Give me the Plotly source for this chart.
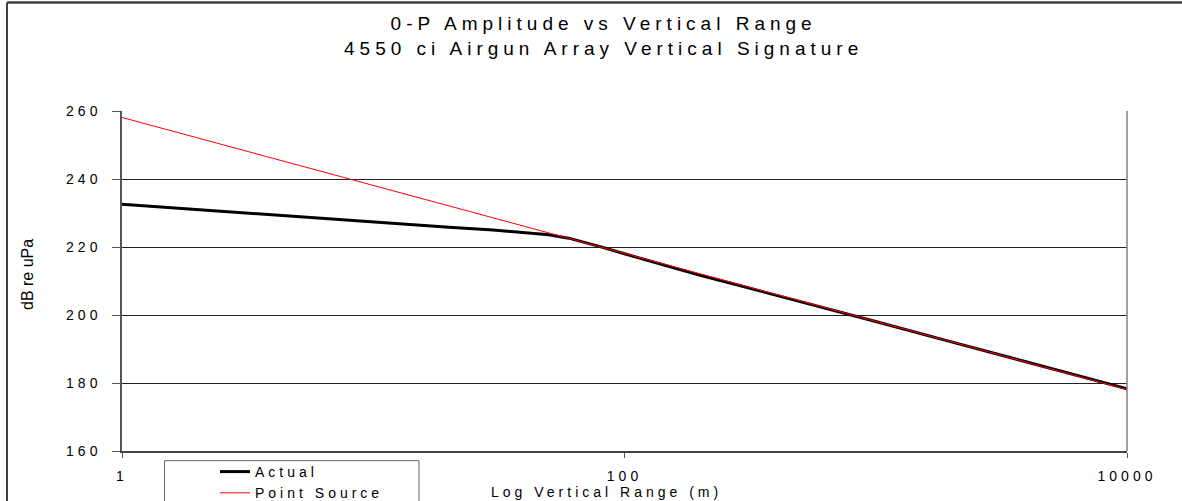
import plotly.graph_objects as go

# ---- data ----
ranges_m = [1, 2, 3, 5, 7, 10, 15, 20, 30, 40, 50, 60, 70, 80, 100, 150, 200, 300,
            500, 700, 1000, 2000, 3000, 5000, 7000, 10000]
actual_db = [232.6, 231.0, 230.1, 229.0, 228.2, 227.3, 226.5, 225.8, 225.0, 224.2,
             223.6, 222.6, 221.3, 220.1, 218.0, 214.3, 211.7, 208.3, 204.0, 201.2,
             198.1, 192.1, 188.6, 184.2, 181.4, 178.3]
point_source_db = [258.1, 252.1, 248.6, 244.1, 241.2, 238.1, 234.6, 232.1, 228.6, 226.1,
                   224.1, 222.5, 221.2, 220.0, 218.1, 214.6, 212.1, 208.6, 204.1, 201.2,
                   198.1, 192.1, 188.6, 184.1, 181.2, 178.1]
series_names = ["Actual", "Point Source"]
y_ticks = [160, 180, 200, 220, 240, 260]
x_ticks = [1, 100, 10000]
title_lines = ["0-P Amplitude vs Vertical Range", "4550 ci Airgun Array Vertical Signature"]
x_title = "Log Vertical Range (m)"
y_title = "dB re uPa"

FONT = "Liberation Sans, Arial, sans-serif"


def spaced(t, px=4):
    return f'<span style="letter-spacing:{px}px">{t}</span>'


W, H = 1182, 501
L, R, T, B = 122, 55, 111, 50
PW, PH = W - L - R, H - T - B


def px_x(p):
    return (p - L) / PW


def px_y(p):
    return (H - B - p) / PH


fig = go.Figure()
fig.add_trace(go.Scatter(x=ranges_m, y=actual_db, mode="lines",
                         name=spaced(series_names[0]),
                         line=dict(color="#000000", width=3)))
fig.add_trace(go.Scatter(x=ranges_m, y=point_source_db, mode="lines",
                         name=spaced(series_names[1]),
                         line=dict(color="#ff0000", width=1)))

fig.update_layout(
    width=W, height=H,
    margin=dict(l=L, r=R, t=T, b=B, autoexpand=False),
    paper_bgcolor="white", plot_bgcolor="white",
    font=dict(family=FONT, size=14, color="#000"),
    showlegend=True,
    legend=dict(x=px_x(215), y=px_y(456), xanchor="left", yanchor="top",
                bgcolor="rgba(0,0,0,0)", borderwidth=0,
                font=dict(family=FONT, size=14, color="#000"),
                itemwidth=30, tracegroupgap=0),
)

fig.update_xaxes(type="log", range=[0, 4],
                 tickvals=x_ticks, ticktext=[spaced(str(v)) for v in x_ticks],
                 ticks="outside", ticklen=5, tickcolor="#555", tickwidth=1,
                 ticklabelstandoff=6,
                 showline=True, linecolor="#444", linewidth=1.5, mirror=False,
                 showgrid=False, zeroline=False,
                 tickfont=dict(family=FONT, size=14, color="#000"))
fig.update_yaxes(range=[160, 260],
                 tickvals=y_ticks, ticktext=[spaced(str(v)) for v in y_ticks],
                 ticks="outside", ticklen=8, tickcolor="#555", tickwidth=1,
                 ticklabelstandoff=8,
                 showline=True, linecolor="#555", linewidth=1.5, mirror=False,
                 showgrid=True, gridcolor="#222", gridwidth=1, zeroline=False,
                 tickfont=dict(family=FONT, size=14, color="#000"))

shapes = [
    # right edge of plot area
    dict(type="line", xref="paper", yref="paper", x0=1, x1=1, y0=0, y1=1,
         line=dict(color="#808080", width=1.5)),
    # outer chart frame (top and left)
    dict(type="line", xref="paper", yref="paper", x0=px_x(7), x1=px_x(1200),
         y0=px_y(2.5), y1=px_y(2.5), line=dict(color="#404040", width=2.5)),
    dict(type="line", xref="paper", yref="paper", x0=px_x(7), x1=px_x(7),
         y0=px_y(2.5), y1=px_y(520), line=dict(color="#404040", width=2)),
    # legend box
    dict(type="rect", xref="paper", yref="paper", x0=px_x(164.5), x1=px_x(419),
         y0=px_y(460.7), y1=px_y(520), line=dict(color="#666", width=1),
         fillcolor="rgba(0,0,0,0)"),
]
fig.update_layout(shapes=shapes)

annotations = [
    dict(text=spaced(title_lines[0], 5.0) + "<br>" + spaced(title_lines[1], 5.0),
         xref="paper", yref="paper", x=px_x(603), y=px_y(36.5),
         xanchor="center", yanchor="middle", showarrow=False,
         font=dict(family=FONT, size=19, color="#000")),
    dict(text=spaced(x_title), xref="paper", yref="paper",
         x=px_x(606), y=px_y(492), xanchor="center", yanchor="middle",
         showarrow=False, font=dict(family=FONT, size=14, color="#000")),
    dict(text=y_title, xref="paper", yref="paper", textangle=-90,
         x=px_x(27), y=px_y(275), xanchor="center", yanchor="middle",
         showarrow=False, font=dict(family=FONT, size=16, color="#000")),
]
fig.update_layout(annotations=annotations)

fig.write_html("out.html")
